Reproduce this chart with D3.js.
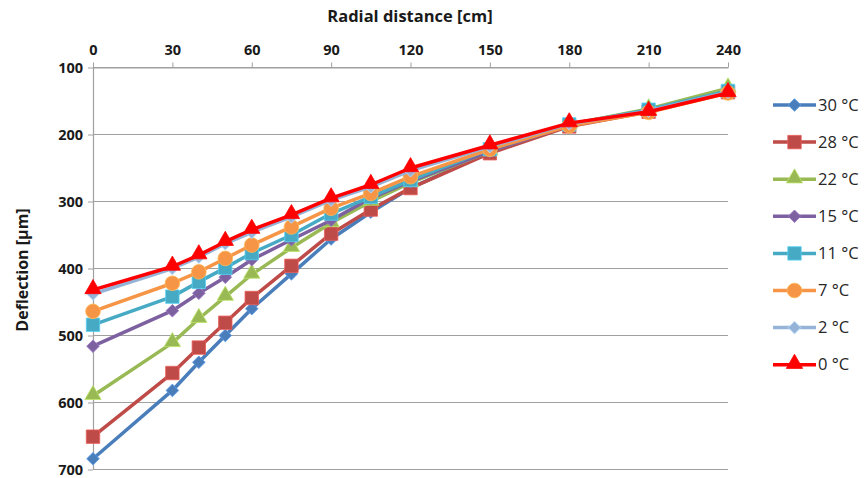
<!DOCTYPE html>
<html><head><meta charset="utf-8">
<script src="https://cdn.jsdelivr.net/npm/d3@7"></script>
<style>body{margin:0;background:#fff}svg{display:block}</style>
</head><body><svg id="c" width="864" height="478"></svg>
<script>
const distances = [0, 30, 40, 50, 60, 75, 90, 105, 120, 150, 180, 210, 240];
const xTicks = [0, 30, 60, 90, 120, 150, 180, 210, 240];
const yTicks = [100, 200, 300, 400, 500, 600, 700];
const seriesNames = ["30 °C", "28 °C", "22 °C", "15 °C", "11 °C", "7 °C", "2 °C", "0 °C"];
const seriesColors = ["#4A7EBB", "#BE4B48", "#98B954", "#7D60A0", "#46AAC5", "#F69546", "#95B3D7", "#FF0000"];
const seriesMarkers = ["diamond", "square", "triangle", "diamond", "square", "circle", "diamond", "triangle"];
const s30 = [684, 582, 540, 500, 460, 408, 356, 316, 280, 226, 186, 165, 137];
const s28 = [651, 556, 518, 481, 444, 396, 348, 312, 280, 228, 188, 166, 137];
const s22 = [590, 511, 475, 442, 409, 369, 332, 300, 272, 225, 185, 162, 131];
const s15 = [516, 463, 437, 413, 387, 357, 328, 295, 270, 225, 186, 164, 136];
const s11 = [484, 442, 420, 399, 377, 350, 318, 293, 268, 222, 185, 163, 135];
const s7 = [464, 422, 405, 385, 365, 338, 310, 288, 263, 222, 187, 167, 138];
const s2 = [438, 400, 383, 363, 346, 323, 298, 278, 254, 218, 184, 165, 137];
const s0 = [432, 397, 380, 360, 342, 320, 295, 275, 250, 216, 183, 166, 138];
const seriesValues = [s30, s28, s22, s15, s11, s7, s2, s0];

(function () {
const svg = d3.select("#c");
const mLeft = 93, mRight = 728, mTop = 67.5, mBottom = 469.5;
const x = d3.scaleLinear().domain([0, 240]).range([mLeft, mRight]);
const y = d3.scaleLinear().domain([100, 700]).range([mTop, mBottom]);
const font = "'Open Sans', 'DejaVu Sans', sans-serif";

// gridlines
svg.append("g").selectAll("line").data(yTicks).join("line")
  .attr("x1", mLeft).attr("x2", mRight)
  .attr("y1", d => y(d)).attr("y2", d => y(d))
  .attr("stroke", "#A0A0A0").attr("stroke-width", 1.2);

// top axis
const xAxis = d3.axisTop(x).tickValues(xTicks).tickSize(5).tickSizeOuter(0);
const gx = svg.append("g").attr("transform", `translate(0,${mTop})`).call(xAxis);
gx.select(".domain").attr("stroke", "#A0A0A0").attr("stroke-width", 1.2);
gx.selectAll(".tick line").attr("stroke", "#A0A0A0");
gx.selectAll("text").attr("font-family", font).attr("font-size", 14.5).attr("font-weight", "bold")
  .attr("fill", "#1a1a1a").attr("dy", "-5");

// left axis
const yAxis = d3.axisLeft(y).tickValues(yTicks).tickSize(5).tickSizeOuter(0);
const gy = svg.append("g").attr("transform", `translate(${mLeft},0)`).call(yAxis);
gy.select(".domain").attr("stroke", "#A0A0A0").attr("stroke-width", 1.2);
gy.selectAll(".tick line").attr("stroke", "#A0A0A0");
gy.selectAll("text").attr("font-family", font).attr("font-size", 14.5).attr("font-weight", "bold")
  .attr("fill", "#1a1a1a").attr("dx", "-2");

// axis titles
svg.append("text").attr("x", 410).attr("y", 22).attr("text-anchor", "middle")
  .attr("font-family", font).attr("font-size", 16.5).attr("font-weight", "bold").attr("fill", "#1a1a1a")
  .text("Radial distance [cm]");
svg.append("text").attr("transform", `translate(28,${270}) rotate(-90)`)
  .attr("text-anchor", "middle").attr("font-family", font).attr("font-size", 16)
  .attr("font-weight", "bold").attr("fill", "#1a1a1a").text("Deflection [µm]");

const symType = {diamond: d3.symbolSquare, square: d3.symbolSquare, triangle: d3.symbolTriangle, circle: d3.symbolCircle};
const symSize = {diamond: 80, square: 180, triangle: 115, circle: 170};
function marker(g, kind, color) {
  g.append("path").attr("d", d3.symbol().type(symType[kind]).size(symSize[kind])())
    .attr("fill", color).attr("stroke", d3.color(color).brighter(0.6)).attr("stroke-width", 0.8)
    .attr("transform", kind === "triangle" ? "translate(0,-1)" : kind === "diamond" ? "rotate(45)" : null);
}

const line = d3.line().x((d, i) => x(distances[i])).y(d => y(d));
seriesValues.forEach((vals, si) => {
  const g = svg.append("g");
  g.append("path").datum(vals).attr("d", line).attr("fill", "none")
    .attr("stroke", seriesColors[si]).attr("stroke-width", 3.5).attr("stroke-linejoin", "round");
  vals.forEach((v, i) => {
    const m = g.append("g").attr("transform", `translate(${x(distances[i])},${y(v)})`);
    marker(m, seriesMarkers[si], seriesColors[si]);
  });
});

// legend
const lg = svg.append("g");
seriesNames.forEach((name, i) => {
  const yy = 105 + i * 37.1;
  const row = lg.append("g").attr("transform", `translate(0,${yy})`);
  row.append("line").attr("x1", 773).attr("x2", 816).attr("y1", 0).attr("y2", 0)
    .attr("stroke", seriesColors[i]).attr("stroke-width", 3.5);
  const m = row.append("g").attr("transform", "translate(794.5,0)");
  marker(m, seriesMarkers[i], seriesColors[i]);
  row.append("text").attr("x", 818).attr("y", 0).attr("dy", "0.35em")
    .attr("font-family", font).attr("font-size", 16.5).attr("fill", "#262626").text(name);
});
})();
</script></body></html>
